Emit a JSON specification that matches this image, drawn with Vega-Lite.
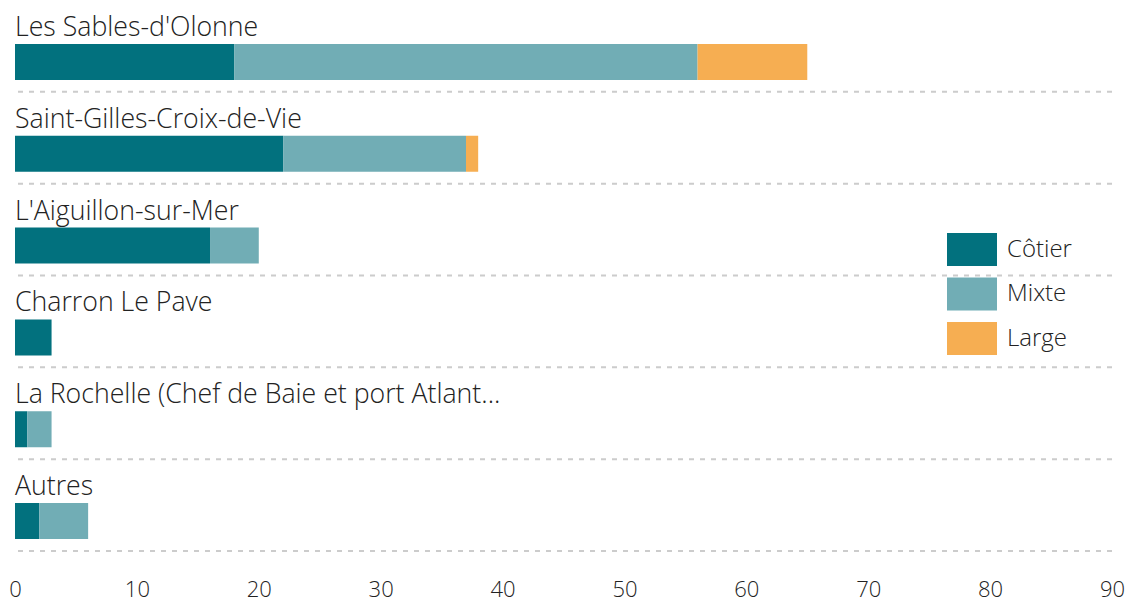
{
  "$schema": "https://vega.github.io/schema/vega-lite/v6.json",
  "width": 1097,
  "height": 551,
  "autosize": "none",
  "padding": {"left": 15, "top": 0, "right": 20, "bottom": 50},
  "background": "white",
  "config": {
    "view": {"stroke": null},
    "font": "Open Sans",
    "text": {"font": "Open Sans"}
  },
  "datasets": {
    "bars": [
      {"port": "Les Sables-d'Olonne", "type": "Côtier", "rank": 1, "value": 18},
      {"port": "Les Sables-d'Olonne", "type": "Mixte", "rank": 2, "value": 38},
      {"port": "Les Sables-d'Olonne", "type": "Large", "rank": 3, "value": 9},
      {"port": "Saint-Gilles-Croix-de-Vie", "type": "Côtier", "rank": 1, "value": 22},
      {"port": "Saint-Gilles-Croix-de-Vie", "type": "Mixte", "rank": 2, "value": 15},
      {"port": "Saint-Gilles-Croix-de-Vie", "type": "Large", "rank": 3, "value": 1},
      {"port": "L'Aiguillon-sur-Mer", "type": "Côtier", "rank": 1, "value": 16},
      {"port": "L'Aiguillon-sur-Mer", "type": "Mixte", "rank": 2, "value": 4},
      {"port": "Charron Le Pave", "type": "Côtier", "rank": 1, "value": 3},
      {"port": "La Rochelle (Chef de Baie et port Atlant...", "type": "Côtier", "rank": 1, "value": 1},
      {"port": "La Rochelle (Chef de Baie et port Atlant...", "type": "Mixte", "rank": 2, "value": 2},
      {"port": "Autres", "type": "Côtier", "rank": 1, "value": 2},
      {"port": "Autres", "type": "Mixte", "rank": 2, "value": 4}
    ],
    "ports": [
      {"port": "Les Sables-d'Olonne"},
      {"port": "Saint-Gilles-Croix-de-Vie"},
      {"port": "L'Aiguillon-sur-Mer"},
      {"port": "Charron Le Pave"},
      {"port": "La Rochelle (Chef de Baie et port Atlant..."},
      {"port": "Autres"}
    ]
  },
  "layer": [
    {
      "data": {"name": "ports"},
      "mark": {"type": "rule", "color": "#cccccc", "strokeWidth": 2, "strokeDash": [5, 6]},
      "encoding": {
        "y": {"field": "port", "type": "nominal", "bandPosition": 1, "scale": {"domain": ["Les Sables-d'Olonne", "Saint-Gilles-Croix-de-Vie", "L'Aiguillon-sur-Mer", "Charron Le Pave", "La Rochelle (Chef de Baie et port Atlant...", "Autres"], "paddingInner": 0, "paddingOuter": 0}, "axis": null}
      }
    },
    {
      "data": {"name": "bars"},
      "mark": {"type": "bar", "height": 36, "yOffset": 16},
      "encoding": {
        "y": {"field": "port", "type": "nominal", "axis": null},
        "x": {"field": "value", "type": "quantitative", "stack": "zero", "scale": {"domain": [0, 90], "nice": false},
          "axis": {"title": null, "values": [0, 10, 20, 30, 40, 50, 60, 70, 80, 90], "domain": false, "ticks": false, "grid": false, "labelFont": "Open Sans", "labelFontWeight": 300, "labelFontSize": 22, "labelColor": "#222222", "labelPadding": 28, "labelFlush": false}},
        "color": {"field": "type", "type": "nominal",
          "scale": {"domain": ["Côtier", "Mixte", "Large"], "range": ["#02717e", "#71adb5", "#f6ae52"]},
          "legend": {"title": null, "orient": "none", "legendX": 937, "legendY": 229.5, "padding": 0,
            "symbolType": "M-1.25,-0.825H1.25V0.825H-1.25Z", "symbolSize": 1600, "symbolStrokeWidth": 0, "symbolOpacity": 1,
            "rowPadding": 7.5, "labelOffset": 15, "labelFont": "Open Sans", "labelFontWeight": 300, "labelFontSize": 24, "labelColor": "#222222"}},
        "order": {"field": "rank", "type": "quantitative"}
      }
    },
    {
      "data": {"name": "ports"},
      "mark": {"type": "text", "align": "left", "baseline": "alphabetic", "yOffset": -10, "fontSize": 26.7, "fontWeight": 300, "color": "#222222", "font": "Open Sans"},
      "encoding": {
        "y": {"field": "port", "type": "nominal", "axis": null},
        "x": {"datum": 0, "type": "quantitative"},
        "text": {"field": "port"}
      }
    }
  ]
}
